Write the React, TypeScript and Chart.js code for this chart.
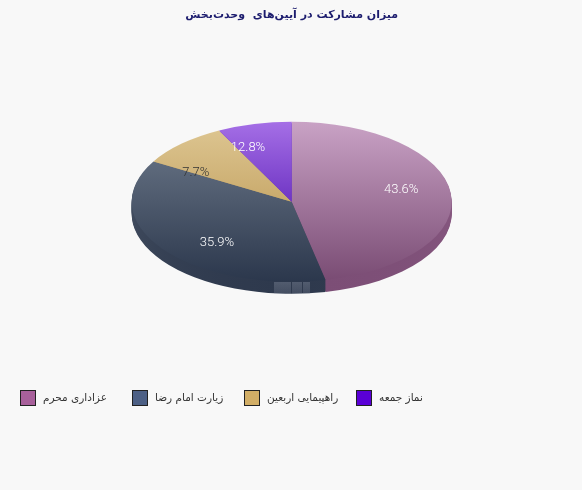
import React, { useEffect, useRef } from "react";
import { Chart, registerables } from "chart.js";

Chart.register(...registerables);

const titleText = "میزان مشارکت در آیین‌های  وحدت‌بخش";
const categories = ["عزاداری محرم", "زیارت امام رضا", "راهپیمایی اربعین", "نماز جمعه"];
// slice sizes as they look in the picture, the printed labels do not agree with them
const sliceShares = [46.6, 36.8, 9.1, 7.5];
const shareLabels = ["43.6%", "35.9%", "7.7%", "12.8%"];

const legendColors = ["#a8609b", "#4d6085", "#d2ae66", "#5a00d6"];
const topColors = ["#c9a2c5", "#5f6b7d", "#dcc48f", "#a56fe6"];
const bottomColors = ["#7a4c74", "#2b374c", "#c9aa6c", "#6f35c4"];
const wallTopColors = ["#8f5f88", "#4b5668", "#b89a60", "#6230b0"];
const wallBottomColors = ["#7c4e76", "#2e394d", "#b89a60", "#6230b0"];
const labelColors = ["#ffffff", "#ffffff", "#333333", "#ffffff"];
const labelNudge = [[30, -8], [-10, 18], [-41, 0], [-25, -15]];
const stripBands = [[274, 17], [292, 10], [303, 7]];

const PIE_CENTER_Y = 201.7;
const SQUASH = 0.5;
const DEPTH = 12;

// top and bottom of a slice, to run its gradient over its own height only
const sliceExtent = (arc: any) => {
	const ys = [arc.y, arc.y + Math.sin(arc.startAngle) * arc.outerRadius, arc.y + Math.sin(arc.endAngle) * arc.outerRadius];
	for (const a of [-Math.PI / 2, Math.PI / 2, (3 * Math.PI) / 2]) {
		if (a >= arc.startAngle && a <= arc.endAngle) ys.push(arc.y + Math.sin(a) * arc.outerRadius);
	}
	return [Math.min(...ys), Math.max(...ys)];
};

const sliceGradient = (ctx: any, arc: any, from: string, to: string) => {
	const [y0, y1] = sliceExtent(arc);
	const g = ctx.createLinearGradient(0, y0, 0, y1);
	g.addColorStop(0, from);
	g.addColorStop(1, to);
	return g;
};

const squashedPie = {
	id: "squashedPie",
	beforeDatasetsDraw(chart: any) {
		const ctx = chart.ctx;
		const arcs = chart.getDatasetMeta(0).data;
		const place = (drop: number) => {
			ctx.translate(0, PIE_CENTER_Y + drop);
			ctx.scale(1, SQUASH);
			ctx.translate(0, -arcs[0].y);
		};
		// the wall: the same arcs stacked downwards, the top face comes last
		for (let d = DEPTH; d > 0; d--) {
			ctx.save();
			place(d);
			arcs.forEach((arc: any, i: number) => {
				const options = arc.options;
				arc.options = { ...options, backgroundColor: sliceGradient(ctx, arc, wallTopColors[i], wallBottomColors[i]) };
				arc.draw(ctx);
				arc.options = options;
			});
			ctx.restore();
		}
		ctx.save();
		place(0);
		arcs.forEach((arc: any, i: number) => {
			arc.options = { ...arc.options, backgroundColor: sliceGradient(ctx, arc, topColors[i], bottomColors[i]) };
		});
	},
	afterDatasetsDraw(chart: any) {
		const ctx = chart.ctx;
		ctx.restore();
		const arcs = chart.getDatasetMeta(0).data;
		ctx.save();
		ctx.font = "300 13px Roboto";
		ctx.textAlign = "center";
		ctx.textBaseline = "middle";
		arcs.forEach((arc: any, i: number) => {
			const p = arc.getCenterPoint();
			const x = p.x + labelNudge[i][0];
			const y = PIE_CENTER_Y + (p.y - arc.y) * SQUASH + labelNudge[i][1];
			ctx.fillStyle = labelColors[i];
			ctx.fillText(shareLabels[i], x, y);
		});
		// small grey strip sitting on the lower rim
		const sg = ctx.createLinearGradient(0, 282, 0, 294);
		sg.addColorStop(0, "rgba(140,148,165,0.38)");
		sg.addColorStop(1, "rgba(140,148,165,0.22)");
		ctx.fillStyle = sg;
		stripBands.forEach(([x, w]) => ctx.fillRect(x, 282, w, 12));
		ctx.restore();
	},
};

export default function App() {
	const canvasRef = useRef<HTMLCanvasElement>(null);

	useEffect(() => {
		if (!canvasRef.current) return;
		const chart = new Chart(canvasRef.current, {
			type: "pie",
			data: {
				labels: categories,
				datasets: [
					{
						data: sliceShares,
						backgroundColor: legendColors,
						borderWidth: 0,
						clip: false,
					} as any,
				],
			},
			options: {
				animation: false,
				responsive: false,
				layout: { padding: { left: 131.7, right: 130.3, top: 0, bottom: 90 } },
				plugins: {
					title: {
						display: true,
						text: titleText,
						color: "#1c1c6e",
						font: { family: "DejaVu Sans", size: 11, weight: "bold" },
						padding: { top: 9, bottom: 8 },
					},
					legend: { display: false },
					tooltip: { enabled: false },
				},
			},
			plugins: [squashedPie],
		} as any);

		return () => {
			chart.destroy();
		};
	}, []);

	return (
		<div style={{ position: "fixed", inset: 0, background: "#f8f8f8" }}>
			<canvas ref={canvasRef} width={582} height={490} style={{ display: "block" }} />
			{categories.map((name, i) => (
				<div
					key={name}
					style={{
						position: "absolute",
						left: 20 + i * 112,
						top: 390,
						display: "flex",
						alignItems: "center",
						height: 16,
						fontFamily: "DejaVu Sans",
						fontSize: 10.5,
						color: "#333",
						whiteSpace: "nowrap",
					}}
				>
					<span
						style={{
							width: 14,
							height: 14,
							marginRight: 7,
							border: "1px solid #222",
							background: legendColors[i],
						}}
					/>
					<span dir="rtl" style={{ position: "relative", top: -1.5 }}>
						{name}
					</span>
				</div>
			))}
		</div>
	);
}
